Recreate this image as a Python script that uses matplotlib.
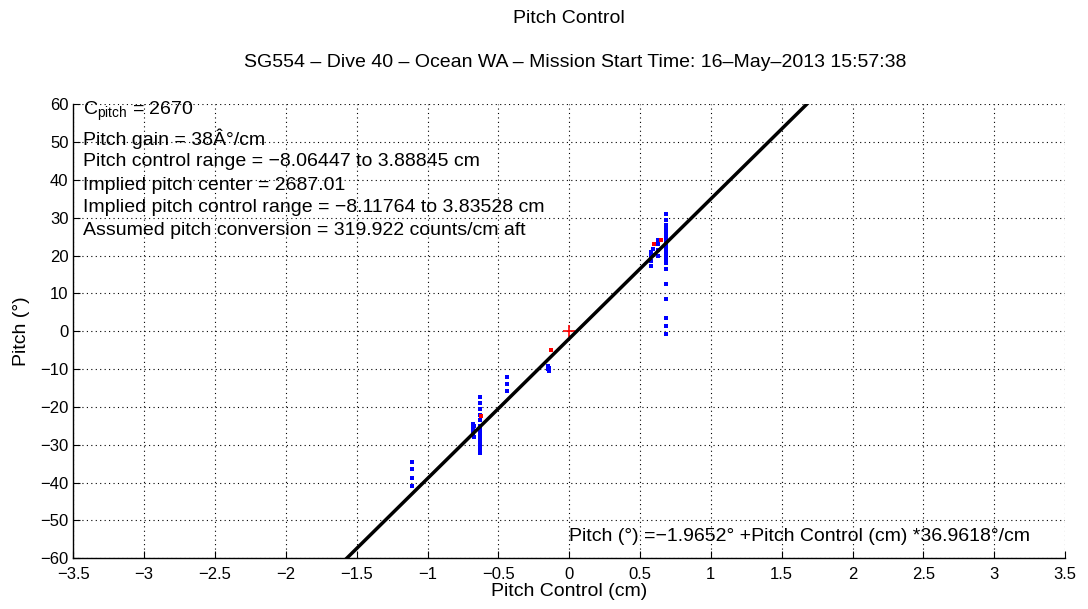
import numpy as np
import matplotlib.pyplot as plt

plt.rcParams['font.family'] = ['Liberation Sans', 'DejaVu Sans']
plt.rcParams['axes.unicode_minus'] = True

#==================================================================
# data
# blue samples: pitch control (cm) vs observed pitch (deg)
ctrl_obs = [-1.11, -1.11, -1.11, -1.11,
            -0.68, -0.68, -0.68, -0.68, -0.67, -0.67,
            -0.63, -0.63, -0.63, -0.63, -0.63, -0.63, -0.63, -0.63, -0.63, -0.63,
            -0.63, -0.63, -0.63, -0.63, -0.63,
            -0.44, -0.44, -0.44,
            -0.15, -0.15, -0.14, -0.14,
            0.58, 0.58, 0.58, 0.58, 0.59, 0.59,
            0.63, 0.63, 0.63, 0.63,
            0.68, 0.68, 0.68, 0.68, 0.68, 0.68, 0.68, 0.68, 0.68, 0.68,
            0.68, 0.68, 0.68, 0.68, 0.68, 0.68, 0.68, 0.68, 0.68]
pitch_obs = [-34.5, -36.5, -38.8, -40.8,
             -24.6, -25.5, -26.5, -27.5, -25.0, -28.0,
             -17.5, -19.0, -20.5, -22.0, -23.5, -25.0, -26.0, -27.0, -28.0, -29.0,
             -29.8, -30.5, -31.2, -31.8, -32.2,
             -12.0, -14.0, -15.9,
             -9.2, -10.0, -9.6, -10.5,
             17.2, 18.5, 19.8, 21.0, 21.7, 20.2,
             20.0, 21.5, 23.0, 24.2,
             31.0, 29.5, 28.2, 27.0, 26.0, 25.0, 24.0, 23.0, 22.0, 21.0,
             20.0, 19.0, 18.0, 16.5, 12.4, 8.4, 3.6, 1.3, -0.8]
# red samples
ctrl_red = [-0.62, -0.125, 0.60, 0.65]
pitch_red = [-22.5, -5.0, 23.0, 24.0]

# fit
intercept = -1.9652
gain = 36.9618
fit_x = [-1.57, 1.68]

xticks = [-3.5, -3, -2.5, -2, -1.5, -1, -0.5, 0, 0.5, 1, 1.5, 2, 2.5, 3, 3.5]
yticks = [-60, -50, -40, -30, -20, -10, 0, 10, 20, 30, 40, 50, 60]

info_lines = ['$\\mathregular{C_{pitch}}$ = 2670',
              'Pitch gain = 38Â°/cm',
              'Pitch control range = \u22128.06447 to 3.88845 cm',
              'Implied pitch center = 2687.01',
              'Implied pitch control range = \u22128.11764 to 3.83528 cm',
              'Assumed pitch conversion = 319.922 counts/cm aft']
info_y = [58.0, 51.0, 45.0, 38.6, 32.6, 26.6]
#==================================================================

fig = plt.figure(figsize=(10.88, 6.09), dpi=100)
ax = fig.add_axes([0.0674, 0.0833, 0.9115, 0.7455])

ax.plot(ctrl_obs, pitch_obs, 's', color='#0000ff', markersize=3, markeredgewidth=0, zorder=3)
ax.plot(ctrl_red, pitch_red, 's', color='#ff0000', markersize=3, markeredgewidth=0, zorder=3)
ax.plot([0], [0], '+', color='#ff0000', markersize=9, markeredgewidth=1.2, zorder=4)
fx = np.array(fit_x)
ax.plot(fx, intercept + gain * fx, color='black', linewidth=2.5, zorder=5)

ax.set_xlim(-3.5, 3.5)
ax.set_ylim(-60, 60)
ax.set_xticks(xticks)
ax.set_yticks(yticks)
ax.set_xticklabels([('%g' % t).replace('-', '\u2212') for t in xticks])
ax.set_yticklabels([('%g' % t).replace('-', '\u2212') for t in yticks])
ax.tick_params(direction='in', length=5, labelsize=12, width=0.8)
ax.tick_params(axis='x', pad=6)
ax.grid(True, color='black', linestyle=(0, (1, 3)), linewidth=0.8)
for s in ['top', 'right']:
    ax.spines[s].set_visible(False)
for s in ['left', 'bottom']:
    ax.spines[s].set_linewidth(1.0)

ax.set_xlabel('Pitch Control (cm)', fontsize=14, labelpad=1)
ax.set_ylabel('Pitch (°)', fontsize=14, labelpad=7)

for txt, yy in zip(info_lines, info_y):
    ax.text(-3.43, yy, txt, fontsize=14, va='center', ha='left', zorder=6)

ax.text(0.0, -54.3, 'Pitch (°) =\u22121.9652° +Pitch Control (cm) *36.9618°/cm',
        fontsize=14, va='center', ha='left', zorder=6)

fig.text(0.523, 0.970, 'Pitch Control', fontsize=14, ha='center', va='center')
fig.text(0.529, 0.898, 'SG554 \u2013 Dive 40 \u2013 Ocean WA \u2013 Mission Start Time: 16\u2013May\u20132013 15:57:38',
         fontsize=14, ha='center', va='center')

fig.savefig('out.png', dpi=100)
